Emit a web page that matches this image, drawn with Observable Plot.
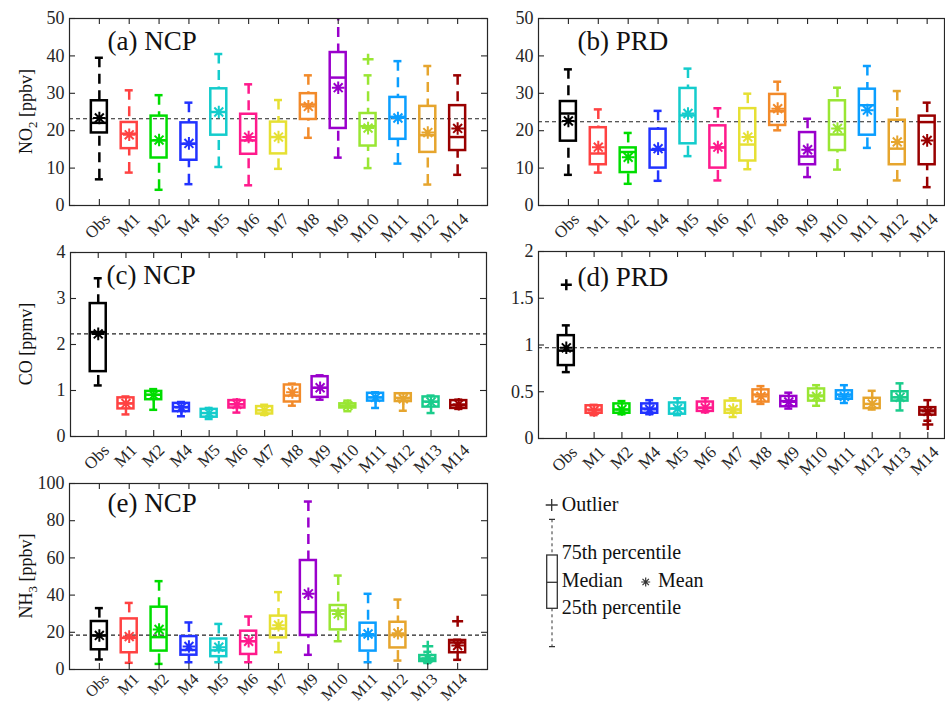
<!DOCTYPE html>
<html><head><meta charset="utf-8">
<script src="https://cdn.jsdelivr.net/npm/d3@7"></script>
<script src="https://cdn.jsdelivr.net/npm/@observablehq/plot@0.6"></script>
<style>
body{margin:0;background:#fff;}
#fig{position:relative;width:945px;height:705px;overflow:hidden;background:#fff;font-family:"Liberation Serif","Times New Roman",serif;}
.panel{position:absolute;}
</style></head><body><div id="fig"></div>
<script>
const FONT = '"Liberation Serif","Times New Roman",serif';
const INK = "#262626";

const colors = {Obs:"#000000", M1:"#ff4242", M2:"#00dd00", M4:"#2233ff", M5:"#14cccc", M6:"#ff1a8c",
  M7:"#e6e033", M8:"#f28a2a", M9:"#9a00cc", M10:"#99e633", M11:"#0a9eff", M12:"#e6a52e", M13:"#1acc8c", M14:"#990000"};

// (a) NO2 NCP
const aCats = ["Obs","M1","M2","M4","M5","M6","M7","M8","M9","M10","M11","M12","M14"];
const aLo   = [7.0, 8.8, 4.2, 5.7,10.3, 5.4, 9.8,18.1,12.8,10.0,11.2, 5.6, 8.2];
const aQ1   = [19.4,15.2,12.7,12.1,18.8,13.7,13.8,23.0,20.6,15.9,17.7,14.2,14.7];
const aMed  = [22.1,19.2,17.4,16.5,25.0,17.4,18.3,27.0,34.2,21.2,23.7,18.8,18.3];
const aQ3   = [28.0,22.2,23.9,22.1,31.2,24.4,22.3,29.9,40.9,24.6,28.9,26.5,26.7];
const aHi   = [39.5,30.8,29.5,27.5,40.5,32.4,28.2,34.8,52.0,34.8,38.6,37.3,34.8];
const aMean = [23.4,18.9,17.5,16.6,25.0,18.3,18.3,26.5,31.5,20.7,23.4,19.5,20.6];
const aOut  = [{cat:"M10", v:39.1}];
const aRef  = 23.2;

// (b) NO2 PRD
const bCats = ["Obs","M1","M2","M4","M5","M6","M7","M8","M9","M10","M11","M12","M14"];
const bLo   = [8.2, 8.8, 5.8, 6.6,13.2, 6.7, 9.7,20.1, 7.6, 9.6,15.4, 6.7, 4.9];
const bQ1   = [17.2,10.9, 8.8,10.0,16.5,10.0,11.9,21.4,10.9,14.7,18.8,10.9,10.9];
const bMed  = [24.6,13.9,14.3,14.9,24.1,15.5,16.3,25.2,13.1,19.0,26.8,15.2,22.3];
const bQ3   = [27.8,20.8,15.4,20.4,31.3,21.3,25.9,29.7,19.5,28.0,31.1,22.8,23.9];
const bHi   = [36.4,25.7,19.4,25.3,36.6,26.0,29.9,33.1,23.2,31.5,37.3,30.6,27.5];
const bMean = [22.6,15.6,12.9,15.2,24.6,15.6,18.3,25.9,14.9,20.6,25.5,17.0,17.4];
const bOut  = [];
const bRef  = 22.4;

// (c) CO NCP
const cCats = ["Obs","M1","M2","M4","M5","M6","M7","M8","M9","M10","M11","M12","M13","M14"];
const cLo   = [1.11,0.48,0.58,0.44,0.38,0.52,0.47,0.67,0.80,0.55,0.62,0.56,0.51,0.60];
const cQ1   = [1.41,0.60,0.80,0.54,0.42,0.62,0.49,0.75,0.85,0.62,0.77,0.76,0.64,0.61];
const cMed  = [2.27,0.72,0.91,0.64,0.51,0.70,0.57,0.89,1.06,0.67,0.85,0.84,0.76,0.68];
const cQ3   = [2.89,0.84,0.98,0.72,0.59,0.78,0.65,1.12,1.30,0.71,0.94,0.93,0.86,0.78];
const cHi   = [3.44,0.87,1.03,0.75,0.62,0.80,0.69,1.15,1.33,0.78,0.96,0.94,0.89,0.80];
const cMean = [2.23,0.72,0.90,0.63,0.51,0.70,0.57,0.96,1.06,0.67,0.85,0.82,0.75,0.70];
const cOut  = [];
const cRef  = 2.23;

// (d) CO PRD
const dCats = ["Obs","M1","M2","M4","M5","M6","M7","M8","M9","M10","M11","M12","M13","M14"];
const dLo   = [0.71,0.25,0.26,0.26,0.25,0.28,0.23,0.37,0.32,0.35,0.38,0.31,0.30,0.19];
const dQ1   = [0.78,0.27,0.27,0.27,0.26,0.29,0.27,0.39,0.34,0.40,0.42,0.32,0.40,0.25];
const dMed  = [0.94,0.31,0.31,0.32,0.32,0.33,0.31,0.47,0.40,0.46,0.47,0.37,0.44,0.30];
const dQ3   = [1.10,0.35,0.37,0.37,0.38,0.39,0.40,0.52,0.45,0.53,0.51,0.43,0.50,0.33];
const dHi   = [1.21,0.36,0.40,0.41,0.43,0.43,0.43,0.56,0.49,0.57,0.57,0.51,0.59,0.41];
const dMean = [0.97,0.30,0.31,0.31,0.32,0.33,0.31,0.45,0.39,0.45,0.45,0.37,0.44,0.29];
const dOut  = [{cat:"Obs", v:1.645}, {cat:"M14", v:0.15}];
const dRef  = 0.97;

// (e) NH3 NCP
const eCats = ["Obs","M1","M2","M4","M5","M6","M7","M9","M10","M11","M12","M13","M14"];
const eLo   = [5.4, 3.6, 3.0, 3.9, 3.9, 3.9, 9.3, 7.9,15.2, 3.9, 4.8, 3.5, 5.2];
const eQ1   = [10.6, 9.0, 9.9, 7.7, 6.9, 8.1,17.0,18.3,21.3, 9.9,11.6, 4.3, 9.0];
const eMed  = [18.3,17.0,17.4,10.5,10.3,15.2,22.0,30.8,31.7,18.3,18.5, 5.8,14.5];
const eQ3   = [25.8,27.2,33.5,17.7,16.4,20.6,28.7,58.6,34.4,24.9,25.4, 7.5,15.6];
const eHi   = [33.0,35.8,47.5,25.3,24.5,28.5,41.6,90.3,50.5,40.7,37.6, 9.5,16.0];
const eMean = [18.3,17.7,21.5,12.4,12.0,15.2,23.8,40.7,29.9,19.1,19.5, 6.0,12.9];
const eOut  = [{cat:"M13", v:12.5}, {cat:"M14", v:26.0}];
const eRef  = 18.5;

const no2Ticks = [0,10,20,30,40,50];
const coNcpTicks = [0,1,2,3,4];
const coPrdTicks = [0,0.5,1,1.5,2];
const nh3Ticks = [0,20,40,60,80,100];

const star8 = {draw(ctx, size){ const r = Math.sqrt(size/Math.PI), d = r*Math.SQRT1_2;
  ctx.moveTo(-r,0); ctx.lineTo(r,0); ctx.moveTo(0,-r); ctx.lineTo(0,r);
  ctx.moveTo(-d,-d); ctx.lineTo(d,d); ctx.moveTo(-d,d); ctx.lineTo(d,-d);}};
const plus = {draw(ctx, size){ const r = Math.sqrt(size/Math.PI);
  ctx.moveTo(-r,0); ctx.lineTo(r,0); ctx.moveTo(0,-r); ctx.lineTo(0,r);}};

const fig = document.getElementById("fig");

function panel(o) {
  const rows = o.cats.map((c,k)=>({i:k+1, cat:c, col:colors[c], lo:o.lo[k], q1:o.q1[k], med:o.med[k], q3:o.q3[k], hi:o.hi[k], mean:o.mean[k]}));
  const outs = o.out.map(p=>({i:o.cats.indexOf(p.cat)+1, v:p.v, col:colors[p.cat]}));
  const W = o.width - o.mL - o.mR, H = o.height - o.mT - o.mB;
  const step = W / o.xMax;
  const hb = 8/step, hc = 4/step;
  const sw = 2.5;
  const marks = [
    Plot.ruleY([o.ref], {y: d=>d, stroke:"#222", strokeWidth:1.1, strokeDasharray:"4,3"}),
    Plot.ruleX(rows, {x:"i", y1:"hi", y2:"q3", stroke:d=>d.col, strokeWidth:sw, strokeDasharray:"10,6.5", clip:true}),
    Plot.ruleX(rows, {x:"i", y1:"lo", y2:"q1", stroke:d=>d.col, strokeWidth:sw, strokeDasharray:"10,6.5", clip:true}),
    Plot.ruleY(rows, {y:"hi", x1:d=>d.i-hc, x2:d=>d.i+hc, stroke:d=>d.col, strokeWidth:sw, clip:true}),
    Plot.ruleY(rows, {y:"lo", x1:d=>d.i-hc, x2:d=>d.i+hc, stroke:d=>d.col, strokeWidth:sw, clip:true}),
    Plot.rect(rows, {x1:d=>d.i-hb, x2:d=>d.i+hb, y1:"q1", y2:"q3", fill:"none", stroke:d=>d.col, strokeWidth:sw}),
    Plot.ruleY(rows, {y:"med", x1:d=>d.i-hb, x2:d=>d.i+hb, stroke:d=>d.col, strokeWidth:sw}),
    Plot.dot(rows, {x:"i", y:"mean", symbol:star8, r:6.3, stroke:d=>d.col, strokeWidth:2}),
    Plot.dot(outs, {x:"i", y:"v", symbol:plus, r:5.5, stroke:d=>d.col, strokeWidth:2.5}),
    Plot.frame({stroke:INK, strokeWidth:1.2}),
    Plot.ruleY(o.yTicks, {y:d=>d, insetRight:W-6, stroke:INK, strokeWidth:1.1}),
    Plot.ruleX(rows, {x:"i", insetBottom:H-6, stroke:INK, strokeWidth:1.1}),
    Plot.ruleX(rows, {x:"i", insetTop:H-6, stroke:INK, strokeWidth:1.1}),
    Plot.text(o.yTicks, {y:d=>d, text:d=>String(d), frameAnchor:"left", textAnchor:"end", dx:-5, fontSize:18, fill:INK}),
    Plot.text(rows, {x:"i", text:"cat", frameAnchor:"bottom", rotate:-45, textAnchor:"end", lineAnchor:"middle", dx:o.ldx, dy:o.ldy, fontSize:o.lfs, fill:INK}),
    Plot.text([o.title], {frameAnchor:"top-left", textAnchor:"start", lineAnchor:"bottom", dx:o.tdx, dy:o.tdy, fontSize:27, fill:"#111"})
  ];
  if (o.rightTicks) marks.push(Plot.ruleY(o.yTicks, {y:d=>d, insetLeft:W-6, stroke:INK, strokeWidth:1.1}));
  const p = Plot.plot({
    width:o.width, height:o.height, marginLeft:o.mL, marginTop:o.mT, marginRight:o.mR, marginBottom:o.mB,
    x:{domain:[0,o.xMax], axis:null},
    y:{domain:o.yDomain, axis:null},
    style:{background:"transparent", fontFamily:FONT, overflow:"visible"},
    marks
  });
  const div = document.createElement("div");
  div.className = "panel";
  div.style.left = o.left + "px"; div.style.top = o.top + "px";
  div.appendChild(p);
  fig.appendChild(div);
  if (o.ylabel) {
    const ns = "http://www.w3.org/2000/svg";
    const t = document.createElementNS(ns, "text");
    const cy = o.mT + H/2;
    t.setAttribute("transform", `translate(32,${cy}) rotate(-90)`);
    t.setAttribute("text-anchor", "middle");
    t.setAttribute("font-size", "18");
    t.setAttribute("font-family", FONT);
    t.setAttribute("fill", "#111");
    o.ylabel.forEach(([s, sub]) => {
      const ts = document.createElementNS(ns, "tspan");
      ts.textContent = s;
      if (sub === 1) { ts.setAttribute("font-size","13"); ts.setAttribute("dy","5"); }
      if (sub === -1) { ts.setAttribute("dy","-5"); }
      t.appendChild(ts);
    });
    p.appendChild(t);
  }
}

panel({cats:aCats, lo:aLo, q1:aQ1, med:aMed, q3:aQ3, hi:aHi, mean:aMean, out:aOut, ref:aRef,
  yDomain:[0,50], yTicks:no2Ticks, xMax:14, left:0, top:0, width:490, height:250, mL:69, mT:18, mR:3, mB:45,
  title:"(a) NCP", tdx:38, tdy:31, rightTicks:true, ldx:8, ldy:11, lfs:17, ylabel:[["NO",0],["2",1],[" [ppbv]",-1]]});
panel({cats:bCats, lo:bLo, q1:bQ1, med:bMed, q3:bQ3, hi:bHi, mean:bMean, out:bOut, ref:bRef,
  yDomain:[0,50], yTicks:no2Ticks, xMax:13.58, left:490, top:0, width:455, height:250, mL:48, mT:18, mR:1, mB:45,
  title:"(b) PRD", tdx:39, tdy:31, rightTicks:false, ldx:8, ldy:11, lfs:17});
panel({cats:cCats, lo:cLo, q1:cQ1, med:cMed, q3:cQ3, hi:cHi, mean:cMean, out:cOut, ref:cRef,
  yDomain:[0,4], yTicks:coNcpTicks, xMax:15, left:0, top:250, width:490, height:230, mL:70, mT:2, mR:4, mB:44,
  title:"(c) NCP", tdx:36, tdy:31, rightTicks:true, ldx:8, ldy:11, lfs:17, ylabel:[["CO [ppmv]",0]]});
panel({cats:dCats, lo:dLo, q1:dQ1, med:dMed, q3:dQ3, hi:dHi, mean:dMean, out:dOut, ref:dRef,
  yDomain:[0,2], yTicks:coPrdTicks, xMax:14.6, left:490, top:250, width:455, height:230, mL:48, mT:1, mR:1, mB:42,
  title:"(d) PRD", tdx:39, tdy:34, rightTicks:false, ldx:8, ldy:11, lfs:17});
panel({cats:eCats, lo:eLo, q1:eQ1, med:eMed, q3:eQ3, hi:eHi, mean:eMean, out:eOut, ref:eRef,
  yDomain:[0,100], yTicks:nh3Ticks, xMax:14, left:0, top:480, width:490, height:225, mL:69, mT:3, mR:3, mB:36,
  title:"(e) NCP", tdx:38, tdy:28, rightTicks:true, ldx:7, ldy:7, lfs:16, ylabel:[["NH",0],["3",1],[" [ppbv]",-1]]});

// Legend (explanatory key, not data)
const leg = document.createElement("div");
leg.className = "panel"; leg.style.left = "490px"; leg.style.top = "480px";
leg.innerHTML = `<svg width="455" height="225" font-family='${FONT}' font-size="20" fill="#111">
 <g stroke="#333" stroke-width="1.3" fill="none">
  <path d="M55.7,25h12M61.7,19v12"/>
  <path d="M59,39.3h6M59,166.7h6"/>
  <path d="M62,39.3V75M62,128.3V166.7" stroke-dasharray="3,3" stroke-width="1"/>
  <rect x="56.7" y="75" width="10.6" height="53.3"/>
  <path d="M56.7,102.3h10.6"/>
  <path d="M151.2,102h9M155.7,97.5v9M152.5,98.8l6.4,6.4M152.5,105.2l6.4,-6.4" stroke-width="1.2"/>
 </g>
 <text x="71.7" y="31">Outlier</text>
 <text x="71.7" y="79.3">75th percentile</text>
 <text x="71.7" y="106.7">Median</text>
 <text x="168" y="106.7">Mean</text>
 <text x="71.7" y="134">25th percentile</text>
</svg>`;
fig.appendChild(leg);
</script></body></html>
